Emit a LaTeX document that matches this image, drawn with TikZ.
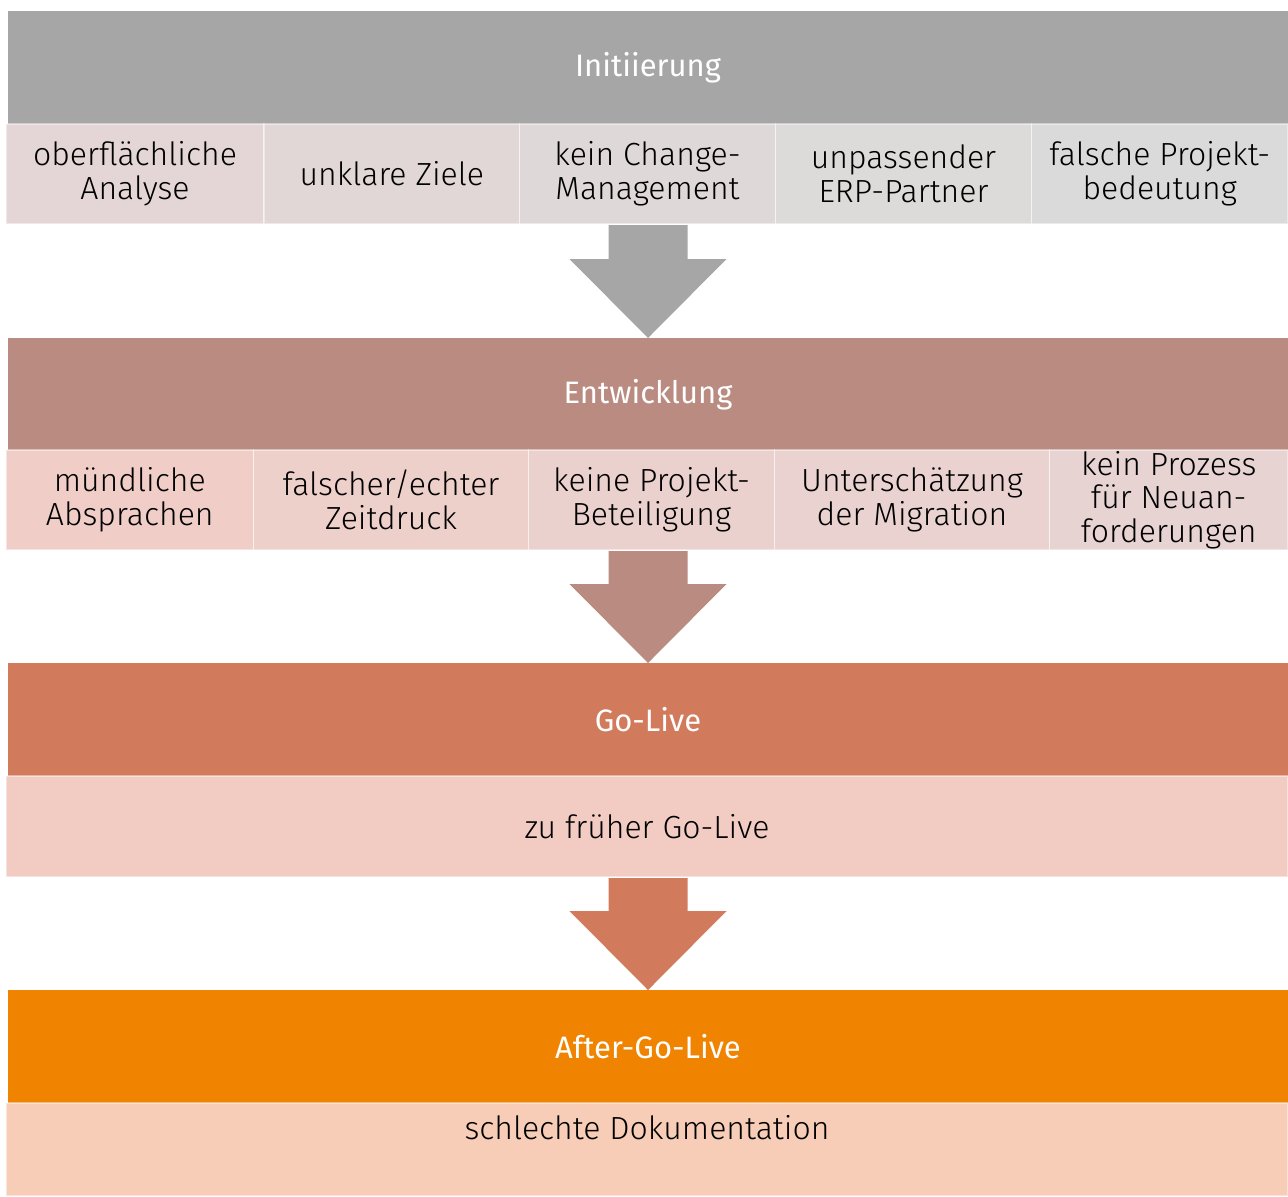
\documentclass[tikz,border=0pt]{standalone}
\usepackage{fontspec}
\setmainfont{Fira Sans Light}
\newfontfamily\headfont{Fira Sans}
\usetikzlibrary{positioning,calc}
\definecolor{initcolor}{RGB}{166,166,166}
\definecolor{entwcolor}{RGB}{185,139,129}
\definecolor{golivecolor}{RGB}{210,122,92}
\definecolor{aftercolor}{RGB}{240,131,0}
\definecolor{initA}{RGB}{228,214,214}
\definecolor{initB}{RGB}{225,215,215}
\definecolor{initC}{RGB}{223,216,216}
\definecolor{initD}{RGB}{221,218,218}
\definecolor{initE}{RGB}{218,218,218}
\definecolor{entwA}{RGB}{240,206,199}
\definecolor{entwB}{RGB}{238,208,202}
\definecolor{entwC}{RGB}{235,209,205}
\definecolor{entwD}{RGB}{233,210,207}
\definecolor{entwE}{RGB}{230,211,210}
\definecolor{golivecell}{RGB}{242,204,195}
\definecolor{aftercell}{RGB}{247,205,183}

\begin{document}
\begin{tikzpicture}[
    x=0.5pt, y=-0.5pt,
    every node/.style={inner sep=0pt, outer sep=0pt},
    head/.style={rectangle, minimum width=640pt, minimum height=56.5pt, text=white, font=\headfont\fontsize{15.5}{18}\selectfont, anchor=north west},
    cell/.style={rectangle, draw=white, draw opacity=0.45, line width=0.75pt, minimum height=50pt, align=center, font=\fontsize{16}{16.8}\selectfont}
]
\useasboundingbox (0,0) rectangle (1288,1196);

% Phase 1: Initiierung
\node[head, fill=initcolor] (init) at (8,11) {Initiierung};
\node[cell, fill=initA, minimum width=129pt, anchor=north west] (i1) at (6,124) {oberflächliche\\Analyse};
\node[cell, fill=initB, minimum width=127.75pt, right=0pt of i1] (i2) {unklare Ziele};
\node[cell, fill=initC, minimum width=128pt, right=0pt of i2] (i3) {kein Change-\\Management};
\node[cell, fill=initD, minimum width=128pt, right=0pt of i3] (i4) {unpassender\\ERP-Partner};
\node[cell, fill=initE, minimum width=128.25pt, right=0pt of i4] (i5) {falsche Projekt-\\bedeutung};

% Phase 2: Entwicklung
\node[head, fill=entwcolor] (entw) at (8,338) {Entwicklung};
\node[cell, fill=entwA, minimum width=123.75pt, anchor=north west] (e1) at (6,450) {mündliche\\Absprachen};
\node[cell, fill=entwB, minimum width=137.5pt, right=0pt of e1] (e2) {falscher/echter\\Zeitdruck};
\node[cell, fill=entwC, minimum width=123pt, right=0pt of e2] (e3) {keine Projekt-\\Beteiligung};
\node[cell, fill=entwD, minimum width=137.5pt, right=0pt of e3] (e4) {Unterschätzung\\der Migration};
\node[cell, fill=entwE, minimum width=119.25pt, right=0pt of e4] (e5) {kein Prozess\\für Neuan-\\forderungen};

% Phase 3: Go-Live
\node[head, fill=golivecolor] (golive) at (8,663) {Go-Live};
\node[cell, fill=golivecell, minimum width=641pt, minimum height=50.5pt, anchor=north west] (g1) at (6,776) {zu früher Go-Live};

% Phase 4: After-Go-Live
\node[head, fill=aftercolor] (after) at (8,990) {After-Go-Live};
\node[cell, fill=aftercell, minimum width=641pt, minimum height=46.5pt, text height=18pt, text depth=28.5pt, anchor=north west] (a1) at (6,1103) {schlechte Dokumentation};

% Block arrows
\fill[initcolor] ($(entw.north |- i3.south)+(-39.5,1)$) |- ($(entw.north)+(-78.5,-79)$) -- (entw.north) -- ($(entw.north)+(78.5,-79)$) -| ($(entw.north |- i3.south)+(39.5,1)$) -- cycle;
\fill[entwcolor] ($(golive.north |- e3.south)+(-39.5,1)$) |- ($(golive.north)+(-78.5,-79)$) -- (golive.north) -- ($(golive.north)+(78.5,-79)$) -| ($(golive.north |- e3.south)+(39.5,1)$) -- cycle;
\fill[golivecolor] ($(after.north |- g1.south)+(-39.5,1)$) |- ($(after.north)+(-78.5,-79)$) -- (after.north) -- ($(after.north)+(78.5,-79)$) -| ($(after.north |- g1.south)+(39.5,1)$) -- cycle;

\end{tikzpicture}
\end{document}
